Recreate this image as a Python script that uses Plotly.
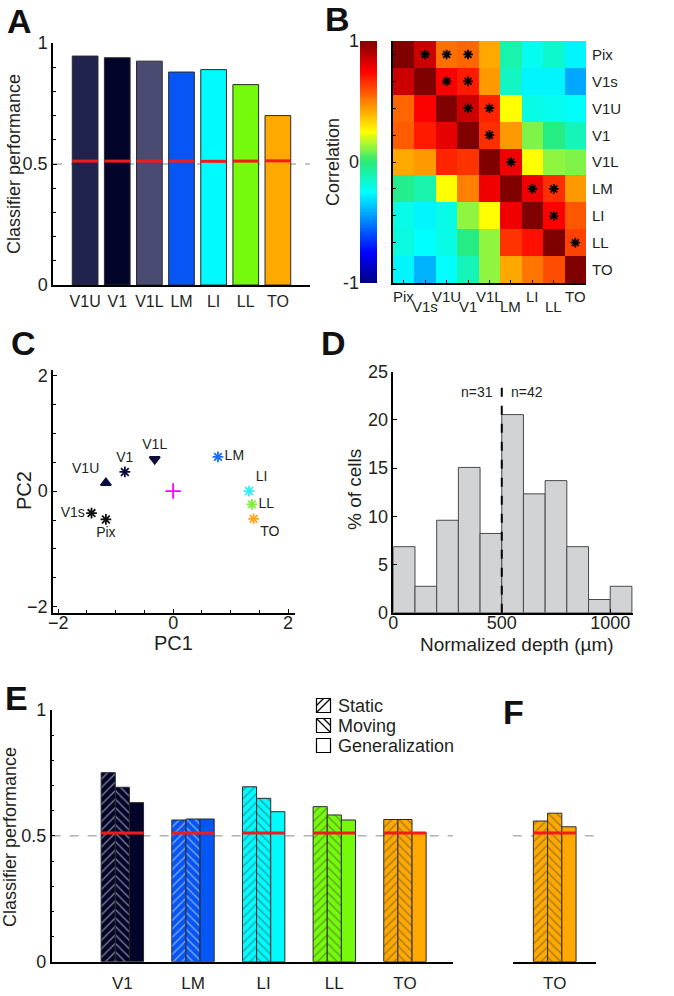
import numpy as np
import plotly.graph_objects as go

W, H = 674, 996
def X(p):
    return p / W
def Y(p):
    return 1 - p / H

# ---------------- data ----------------
# Panel A
A_areas = ['V1U', 'V1', 'V1L', 'LM', 'LI', 'LL', 'TO']
A_perf = [0.946, 0.939, 0.925, 0.880, 0.890, 0.828, 0.700]
A_shuffle = [0.512, 0.512, 0.512, 0.512, 0.511, 0.512, 0.513]
A_colors = ['#21234f', '#03042a', '#4a4b73', '#0556f5', '#00fbff', '#74fa0a', '#ffa900']

# Panel B
B_labels = ['Pix', 'V1s', 'V1U', 'V1', 'V1L', 'LM', 'LI', 'LL', 'TO']
B_corr = [
    [1.00, 0.85, 0.53, 0.55, 0.42, -0.10, -0.22, -0.16, -0.27],
    [0.85, 1.00, 0.76, 0.70, 0.45, -0.14, -0.27, -0.27, -0.42],
    [0.55, 0.76, 1.00, 0.85, 0.68, 0.25, -0.20, -0.22, -0.24],
    [0.57, 0.70, 0.80, 1.00, 0.66, 0.45, 0.10, -0.02, -0.12],
    [0.42, 0.45, 0.68, 0.65, 1.00, 0.78, 0.25, 0.12, 0.10],
    [-0.04, -0.10, 0.25, 0.50, 0.78, 1.00, 0.78, 0.66, 0.45],
    [-0.20, -0.27, -0.20, 0.12, 0.25, 0.78, 1.00, 0.75, 0.58],
    [-0.19, -0.25, -0.20, -0.02, 0.12, 0.65, 0.72, 1.00, 0.62],
    [-0.27, -0.40, -0.25, -0.12, 0.12, 0.42, 0.52, 0.60, 1.00],
]
B_sig = [(0, 1), (0, 2), (0, 3), (1, 2), (1, 3), (2, 3), (2, 4), (3, 4),
         (4, 5), (5, 6), (5, 7), (6, 7), (7, 8)]

# Panel C
C_labels = ['V1s', 'Pix', 'V1U', 'V1', 'V1L', 'LM', 'LI', 'LL', 'TO']
C_pc1 = [-1.42, -1.17, -1.17, -0.84, -0.32, 0.78, 1.32, 1.37, 1.40]
C_pc2 = [-0.38, -0.49, 0.14, 0.33, 0.55, 0.59, 0.00, -0.23, -0.48]
C_origin_pc1 = [0.0]
C_origin_pc2 = [0.0]

# Panel D
D_bin_left = [0, 100, 200, 300, 400, 500, 600, 700, 800, 900, 1000]
D_bin_width = 100
D_pct = [6.85, 2.74, 9.59, 15.07, 8.22, 20.55, 12.33, 13.70, 6.85, 1.37, 2.74]
D_split = 500
D_counts = ['n=31', 'n=42']

# Panel E
E_areas = ['V1', 'LM', 'LI', 'LL', 'TO']
E_static = [0.751, 0.563, 0.695, 0.616, 0.565]
E_moving = [0.693, 0.567, 0.649, 0.583, 0.565]
E_general = [0.632, 0.567, 0.596, 0.563, 0.513]
E_shuffle = [0.511, 0.511, 0.511, 0.511, 0.511]
E_colors = ['#03042a', '#0556f5', '#00fbff', '#74fa0a', '#ffa900']

# Panel F
F_areas = ['TO']
F_static = [0.559]
F_moving = [0.590]
F_general = [0.536]
F_shuffle = [0.511]

chance = 0.5

# ---------------- style ----------------
FONT = 'Liberation Sans, Arial, sans-serif'
TXT = '#231f20'
jet = [[0.0, 'rgb(0,0,130)'], [0.125, 'rgb(0,0,255)'], [0.375, 'rgb(0,255,255)'],
       [0.5, 'rgb(40,235,120)'], [0.625, 'rgb(255,255,0)'], [0.875, 'rgb(255,0,0)'],
       [1.0, 'rgb(128,0,0)']]
RED = '#f21a1a'
EDGE = '#2a2a2a'
TICK = 18

fig = go.Figure()

# ---- A ----
A_x = list(range(1, len(A_areas) + 1))
fig.add_trace(go.Bar(x=A_x, y=A_perf, width=0.8, marker=dict(color=A_colors, line=dict(color=EDGE, width=1)),
                     xaxis='x', yaxis='y'))
rx, ry = [], []
for xi, s in zip(A_x, A_shuffle):
    rx += [xi - 0.4, xi + 0.4, None]
    ry += [s, s, None]
fig.add_trace(go.Scatter(x=rx, y=ry, mode='lines', line=dict(color=RED, width=3), xaxis='x', yaxis='y'))

# ---- B ----
fig.add_trace(go.Heatmap(z=B_corr, x=B_labels, y=B_labels, colorscale=jet, zmin=-1, zmax=1,
                         showscale=False, xaxis='x2', yaxis='y2'))
fig.add_trace(go.Scatter(x=[B_labels[c] for r, c in B_sig], y=[B_labels[r] for r, c in B_sig],
                         mode='markers',
                         marker=dict(symbol='asterisk-open', size=8, color='black',
                                     line=dict(color='black', width=1.8)),
                         xaxis='x2', yaxis='y2'))
cb_vals = np.linspace(-1, 1, 256)
fig.add_trace(go.Heatmap(z=[[v] for v in cb_vals], y=cb_vals, x=[0], colorscale=jet, zmin=-1, zmax=1,
                         showscale=False, xaxis='x3', yaxis='y3'))

# ---- C ----
C_symbols = ['asterisk-open', 'asterisk-open', 'triangle-up', 'asterisk-open', 'triangle-down',
             'asterisk-open', 'asterisk-open', 'asterisk-open', 'asterisk-open']
C_colors = ['#111111', '#111111', '#0b0b3e', '#0b0b3e', '#0d0d38', '#1a6cf0', '#33eef5', '#7ef03a', '#ffa520']
C_pos = ['middle left', 'bottom center', 'top left', 'top center', 'top center',
         'middle right', 'top right', 'middle right', 'bottom right']
fig.add_trace(go.Scatter(x=C_pc1, y=C_pc2, mode='markers+text', text=C_labels, textposition=C_pos,
                         textfont=dict(size=14, color=TXT, family=FONT),
                         marker=dict(symbol=C_symbols, size=9, color=C_colors,
                                     line=dict(color=C_colors, width=1.8)),
                         xaxis='x4', yaxis='y4'))
fig.add_trace(go.Scatter(x=C_origin_pc1, y=C_origin_pc2, mode='markers',
                         marker=dict(symbol='cross-thin-open', size=11, color='#ff00ff',
                                     line=dict(color='#ff00ff', width=1.8)),
                         xaxis='x4', yaxis='y4'))

# ---- D ----
fig.add_trace(go.Bar(x=[l + D_bin_width / 2 for l in D_bin_left], y=D_pct, width=D_bin_width,
                     marker=dict(color='#d1d3d4', line=dict(color='#4a4a4a', width=1)),
                     xaxis='x5', yaxis='y5'))
fig.add_trace(go.Scatter(x=[D_split, D_split], y=[0, 24], mode='lines',
                         line=dict(color='black', width=2, dash='dash'), xaxis='x5', yaxis='y5'))

# ---- E & F ----
def grouped(xs, st, mv, ge, sh, colors, fg, xa, ya):
    fig.add_trace(go.Bar(x=xs, y=st, offset=-0.3, width=0.2,
                         marker=dict(color=colors, line=dict(color=EDGE, width=1),
                                     pattern=dict(shape='/', fgcolor=fg, fillmode='overlay',
                                                  size=6, solidity=0.22)),
                         xaxis=xa, yaxis=ya))
    fig.add_trace(go.Bar(x=xs, y=mv, offset=-0.1, width=0.2,
                         marker=dict(color=colors, line=dict(color=EDGE, width=1),
                                     pattern=dict(shape='\\', fgcolor=fg, fillmode='overlay',
                                                  size=6, solidity=0.22)),
                         xaxis=xa, yaxis=ya))
    fig.add_trace(go.Bar(x=xs, y=ge, offset=0.1, width=0.2,
                         marker=dict(color=colors, line=dict(color=EDGE, width=1)),
                         xaxis=xa, yaxis=ya))
    lx, ly = [], []
    for xi, s in zip(xs, sh):
        lx += [xi - 0.3, xi + 0.3, None]
        ly += [s, s, None]
    fig.add_trace(go.Scatter(x=lx, y=ly, mode='lines', line=dict(color=RED, width=3), xaxis=xa, yaxis=ya))

E_x = list(range(1, len(E_areas) + 1))
grouped(E_x, E_static, E_moving, E_general, E_shuffle, E_colors,
        ['white', 'black', 'black', 'black', 'black'], 'x6', 'y6')
F_x = list(range(1, len(F_areas) + 1))
grouped(F_x, F_static, F_moving, F_general, F_shuffle, ['#ffa900'], ['black'], 'x7', 'y7')

# ---------------- axes ----------------
base = dict(showline=True, linecolor='black', linewidth=1.5, ticks='inside', ticklen=4,
            tickcolor='black', showgrid=False, zeroline=False, automargin=False,
            tickfont=dict(size=TICK, color=TXT, family=FONT))

def ax(**kw):
    d = dict(base)
    d.update(kw)
    return d

minor01 = dict(dtick=0.1, ticks='inside', ticklen=3, tickcolor='black')
minor05 = dict(dtick=0.5, ticks='inside', ticklen=3, tickcolor='black')

fig.update_layout(
    template='none',
    width=W, height=H, autosize=False,
    margin=dict(l=0, r=0, t=0, b=0, pad=0, autoexpand=False),
    paper_bgcolor='white', plot_bgcolor='white', showlegend=False, barmode='overlay',
    font=dict(family=FONT, color=TXT),
    # A
    xaxis=ax(domain=[X(53), X(310)], range=[0, 8], anchor='y', tickvals=A_x, ticktext=A_areas,
             ticks='', tickfont=dict(size=16, color=TXT, family=FONT), ticklabelstandoff=1),
    yaxis=ax(domain=[Y(285), Y(43)], range=[0, 1], anchor='x', tickvals=[0, 0.5, 1],
             ticktext=['0', '0.5', '1'], minor=minor01),
    # B heatmap
    xaxis2=ax(domain=[X(393), X(586)], anchor='y2', type='category', categoryorder='array',
              categoryarray=B_labels, range=[-0.5, 8.5], showticklabels=False, ticklen=3),
    yaxis2=ax(domain=[Y(283), Y(41)], anchor='x2', type='category', categoryorder='array',
              categoryarray=B_labels[::-1], range=[-0.5, 8.5], showticklabels=False, ticklen=3),
    # B colorbar
    xaxis3=dict(domain=[X(360), X(377)], anchor='y3', range=[-0.5, 0.5], visible=False, automargin=False),
    yaxis3=dict(domain=[Y(283), Y(41)], anchor='x3', range=[-1, 1], showgrid=False, zeroline=False,
                showline=False, ticks='', tickvals=[-1, 0, 1], ticktext=['-1', '0', '1'], automargin=False,
                tickfont=dict(size=TICK, color=TXT, family=FONT)),
    # C
    xaxis4=ax(domain=[X(53), X(295)], anchor='y4', range=[-2.09, 2.12], tickvals=[-2, 0, 2],
              minor=minor05, ticklabelstandoff=-7),
    yaxis4=ax(domain=[Y(612.7), Y(370)], anchor='x4', range=[-2.1, 2.09], tickvals=[-2, 0, 2],
              minor=minor05),
    # D
    xaxis5=ax(domain=[X(393.3), X(633)], anchor='y5', range=[0, 1105], tickvals=[0, 500, 1000],
              ticklabelstandoff=-7),
    yaxis5=ax(domain=[Y(612.7), Y(371.7)], anchor='x5', range=[0, 25], tickvals=[0, 5, 10, 15, 20, 25]),
    # E
    xaxis6=ax(domain=[X(51.7), X(453)], anchor='y6', range=[0, 5.68], tickvals=E_x, ticktext=E_areas,
              ticks='', ticklabelstandoff=5, tickfont=dict(size=17, color=TXT, family=FONT)),
    yaxis6=ax(domain=[Y(961.7), Y(710)], anchor='x6', range=[0, 1], tickvals=[0, 0.5, 1],
              ticktext=['0', '0.5', '1'], minor=minor01),
    # F
    xaxis7=ax(domain=[X(512.7), X(596)], anchor='y7', range=[0.41, 1.58], tickvals=F_x, ticktext=F_areas,
              ticks='', linewidth=2, ticklabelstandoff=5, tickfont=dict(size=17, color=TXT, family=FONT)),
    yaxis7=dict(domain=[Y(961.7), Y(710)], anchor='x7', range=[0, 1], visible=False, automargin=False),
)

# chance (dashed) lines
shapes = []
for xa, ya in [('x', 'y'), ('x6', 'y6'), ('x7', 'y7')]:
    shapes.append(dict(type='line', xref=f'{xa} domain', yref=ya, x0=0, x1=1, y0=chance, y1=chance,
                       line=dict(color='#8a8a8a', width=1, dash='dash'), layer='below'))

# legend for E (boxes)
leg_items = ['Static', 'Moving', 'Generalization']
leg_top = [698.5, 718.5, 738.5]
for name, t in zip(leg_items, leg_top):
    shapes.append(dict(type='rect', xref='paper', yref='paper', x0=X(316.5), x1=X(330.5),
                       y0=Y(t + 14), y1=Y(t), line=dict(color='black', width=1.2), fillcolor='white'))
shapes.append(dict(type='line', xref='paper', yref='paper', x0=X(316.5), y0=Y(leg_top[0] + 14),
                   x1=X(330.5), y1=Y(leg_top[0]), line=dict(color='black', width=1.2)))
shapes.append(dict(type='line', xref='paper', yref='paper', x0=X(316.5), y0=Y(leg_top[0] + 7),
                   x1=X(323.5), y1=Y(leg_top[0]), line=dict(color='black', width=1.2)))
shapes.append(dict(type='line', xref='paper', yref='paper', x0=X(316.5), y0=Y(leg_top[1]),
                   x1=X(330.5), y1=Y(leg_top[1] + 14), line=dict(color='black', width=1.2)))
shapes.append(dict(type='line', xref='paper', yref='paper', x0=X(323.5), y0=Y(leg_top[1]),
                   x1=X(330.5), y1=Y(leg_top[1] + 7), line=dict(color='black', width=1.2)))
fig.update_layout(shapes=shapes)

ann = []
def text(x, y, s, size, **kw):
    d = dict(x=x, y=y, text=s, showarrow=False, font=dict(size=size, color=TXT, family=FONT),
             xref='paper', yref='paper')
    d.update(kw)
    ann.append(d)

for name, t in zip(leg_items, leg_top):
    text(X(336), Y(t + 7), name, 18, xanchor='left', yanchor='middle')

# panel letters
for s, cx, cy in [('A', 19, 21), ('B', 337, 19), ('C', 23, 343), ('D', 333, 343), ('E', 16, 698), ('F', 513, 712)]:
    text(X(cx), Y(cy), f'<b>{s}</b>', 34, xanchor='center', yanchor='middle',
         font=dict(size=34, color='#111111', family=FONT))

# axis titles
text(X(14), Y(164), 'Classifier performance', 18, textangle=-90, xanchor='center', yanchor='middle')
text(X(333), Y(162), 'Correlation', 18, textangle=-90, xanchor='center', yanchor='middle')
text(X(24), Y(491), 'PC2', 20, textangle=-90, xanchor='center', yanchor='middle')
text(X(174), Y(643), 'PC1', 20, xanchor='center', yanchor='middle')
text(X(354), Y(490), '% of cells', 19, textangle=-90, xanchor='center', yanchor='middle')
text(X(517), Y(644), 'Normalized depth (µm)', 19, xanchor='center', yanchor='middle')
text(X(10), Y(837), 'Classifier performance', 18, textangle=-90, xanchor='center', yanchor='middle')

# B labels
for i, lab in enumerate(B_labels):
    text(lab, Y(297) if i % 2 == 0 else Y(306), lab, 15, xref='x2', xanchor='center', yanchor='middle')
    text(X(590), lab, lab, 15, yref='y2', xanchor='left', yanchor='middle')

# D counts
text(D_split, 22.9, D_counts[0], 14, xref='x5', yref='y5', xanchor='right', yanchor='middle', xshift=-7)
text(D_split, 22.9, D_counts[1], 14, xref='x5', yref='y5', xanchor='left', yanchor='middle', xshift=7)

fig.update_layout(annotations=ann)

fig.write_html('out.html', config={'displayModeBar': False},
               post_script="document.body.style.margin='0';document.body.style.overflow='hidden';")
